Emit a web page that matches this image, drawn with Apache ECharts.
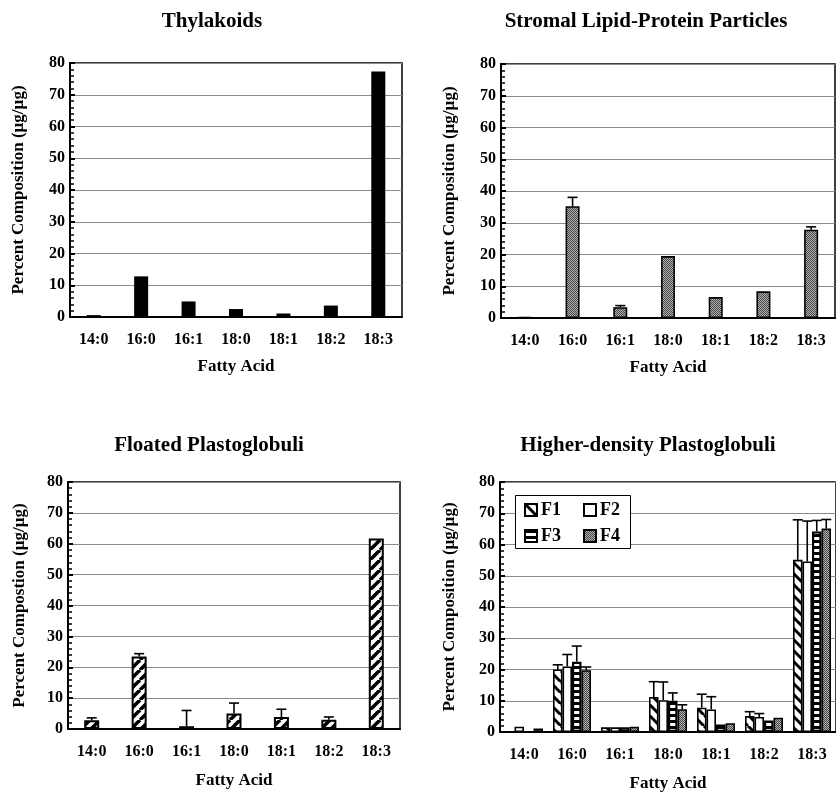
<!DOCTYPE html>
<html><head><meta charset="utf-8">
<script src="https://cdn.jsdelivr.net/npm/echarts@6/dist/echarts.min.js"></script>
<style>html,body{margin:0;padding:0;background:#fff}#c{width:836px;height:793px}</style>
</head><body><div id="c"></div>
<script>
// ---- data ----
const categories = ['14:0','16:0','16:1','18:0','18:1','18:2','18:3'];
const yTicks = [0,10,20,30,40,50,60,70,80];
const thylakoids = [0.6, 12.8, 4.9, 2.5, 1.1, 3.6, 77.3];
const stromal    = [0.3, 35.2, 3.4, 19.5, 6.6, 8.4, 27.8];
const stromalErr = [0.3, 38.0, 3.9, 19.5, 6.6, 8.4, 28.7];
const floated    = [2.8, 23.5, 0.9, 5.0, 3.9, 3.0, 61.7];
const floatedErr = [3.6, 24.4, 6.0, 8.4, 6.4, 3.9, 61.7];
const f1    = [0.0, 20.0, 1.5, 11.2, 7.8, 5.1, 55.1];
const f1Err = [0.0, 21.5, 1.5, 16.1, 12.1, 6.5, 67.9];
const f2    = [1.7, 21.0, 1.5, 10.2, 7.2, 4.8, 54.6];
const f2Err = [1.7, 24.8, 1.5, 16.0, 11.3, 5.9, 67.5];
const f3    = [0.0, 22.5, 1.5, 10.0, 2.4, 3.7, 64.2];
const f3Err = [0.0, 27.5, 1.5, 12.5, 2.4, 3.7, 67.7];
const f4    = [1.1, 19.8, 1.7, 7.3, 2.8, 4.6, 65.1];
const f4Err = [1.1, 20.8, 1.7, 8.7, 2.8, 4.6, 68.0];
const fractionNames = ['F1','F2','F3','F4'];

const FONT = "'Liberation Serif','Times New Roman',serif";

function makePattern(w, h, draw) {
  const c = document.createElement('canvas');
  c.width = w; c.height = h;
  const ctx = c.getContext('2d');
  draw(ctx, w, h);
  return { image: c, repeat: 'repeat' };
}
const stipple = makePattern(2, 2, (ctx) => {
  ctx.fillStyle = '#b4b4b4'; ctx.fillRect(0, 0, 2, 2);
  ctx.fillStyle = '#444'; ctx.fillRect(0, 0, 1, 1); ctx.fillRect(1, 1, 1, 1);
});
const slash = makePattern(10, 10, (ctx, w, h) => {
  ctx.fillStyle = '#fff'; ctx.fillRect(0, 0, w, h);
  ctx.strokeStyle = '#000'; ctx.lineWidth = 3.5;
  [-w, 0, w].forEach((dx) => {
    ctx.beginPath(); ctx.moveTo(dx, h); ctx.lineTo(dx + w, 0); ctx.stroke();
  });
});
const backslash = makePattern(11, 11, (ctx, w, h) => {
  ctx.fillStyle = '#fff'; ctx.fillRect(0, 0, w, h);
  ctx.strokeStyle = '#000'; ctx.lineWidth = 3;
  [-w, 0, w].forEach((dx) => {
    ctx.beginPath(); ctx.moveTo(dx, 0); ctx.lineTo(dx + w, h); ctx.stroke();
  });
});
const hstripe = makePattern(4, 6, (ctx) => {
  ctx.fillStyle = '#000'; ctx.fillRect(0, 0, 4, 3);
  ctx.fillStyle = '#fff'; ctx.fillRect(0, 3, 4, 3);
});

function errData(vals, errs) {
  const out = [];
  vals.forEach((v, i) => { if (errs[i] > v + 0.05) out.push([i, v, errs[i]]); });
  return out;
}
function errSeries(axis, vals, errs, offset, capHalf) {
  return {
    type: 'custom', xAxisIndex: axis, yAxisIndex: axis, z: 5,
    data: errData(vals, errs), encode: { x: 0, y: [1, 2] },
    renderItem: function (params, api) {
      const i = api.value(0);
      const b = api.coord([i, api.value(1)]);
      const t = api.coord([i, api.value(2)]);
      const cx = b[0] + offset;
      const st = { stroke: '#000', lineWidth: 1.6 };
      return { type: 'group', children: [
        { type: 'line', shape: { x1: cx, y1: b[1], x2: cx, y2: t[1] }, style: st },
        { type: 'line', shape: { x1: cx - capHalf, y1: t[1], x2: cx + capHalf, y2: t[1] }, style: st }
      ] };
    }
  };
}

const grids = [
  { left: 70, top: 63, width: 332, height: 254 },
  { left: 501, top: 64, width: 334, height: 254 },
  { left: 68, top: 482, width: 332, height: 247 },
  { left: 500, top: 482, width: 337, height: 250 }
];
const yNames = ['Percent Composition (µg/µg)', 'Percent Composition (µg/µg)', 'Percent Compostion (µg/µg)', 'Percent Composition (µg/µg)'];
const yNameGaps = [43, 43, 40, 42];

const option = {
  animation: false,
  backgroundColor: '#fff',
  title: [
    { text: 'Thylakoids', left: 207, top: 6, textAlign: 'center' },
    { text: 'Stromal Lipid-Protein Particles', left: 641, top: 6, textAlign: 'center' },
    { text: 'Floated Plastoglobuli', left: 204, top: 430, textAlign: 'center' },
    { text: 'Higher-density Plastoglobuli', left: 643, top: 430, textAlign: 'center' }
  ].map(t => Object.assign(t, { textStyle: { fontFamily: FONT, fontWeight: 'bold', fontSize: 21, color: '#000' } })),
  grid: grids.map(g => Object.assign({ show: true, borderColor: '#000', borderWidth: 1.5, backgroundColor: 'transparent' }, g)),
  xAxis: grids.map((g, k) => ({
    type: 'category', gridIndex: k, data: categories,
    name: 'Fatty Acid', nameLocation: 'middle', nameGap: k < 2 ? 41 : 43,
    nameTextStyle: { fontFamily: FONT, fontWeight: 'bold', fontSize: 17, color: '#000' },
    axisLine: { lineStyle: { color: '#000', width: 2 } },
    axisTick: { show: false },
    axisLabel: { fontFamily: FONT, fontWeight: 'bold', fontSize: 16, color: '#000', margin: 15 }
  })),
  yAxis: grids.map((g, k) => ({
    type: 'value', gridIndex: k, min: yTicks[0], max: yTicks[yTicks.length - 1], interval: 10,
    name: yNames[k], nameLocation: 'middle', nameRotate: 90, nameGap: yNameGaps[k],
    nameTextStyle: { fontFamily: FONT, fontWeight: 'bold', fontSize: 17, color: '#000' },
    axisLine: { show: true, lineStyle: { color: '#000', width: 2 } },
    axisTick: { show: true, inside: true, length: 5, lineStyle: { color: '#000', width: 2 } },
    minorTick: { show: true, splitNumber: 5, length: 4, lineStyle: { color: '#000', width: 1.5 } },
    splitLine: { show: true, lineStyle: { color: '#8a8a8a', width: 1 } },
    axisLabel: { fontFamily: FONT, fontWeight: 'bold', fontSize: 16, color: '#000', margin: 5 }
  })),
  legend: [
    { data: ['F1', 'F2'], left: 524, top: 501 },
    { data: ['F3', 'F4'], left: 524, top: 527 }
  ].map(l => Object.assign(l, {
    orient: 'horizontal', itemWidth: 12, itemHeight: 12, itemGap: 22, icon: 'rect', z: 10,
    padding: 0, selectedMode: false,
    textStyle: { fontFamily: FONT, fontWeight: 'bold', fontSize: 18, color: '#000', padding: [0, 0, 0, -1] }
  })),
  graphic: [{
    type: 'rect', z: 8, left: 515, top: 495,
    shape: { width: 115, height: 53 },
    style: { fill: '#fff', stroke: '#000', lineWidth: 1 }
  }],
  series: [
    { type: 'bar', xAxisIndex: 0, yAxisIndex: 0, data: thylakoids, barWidth: 14,
      itemStyle: { color: '#000' } },
    { type: 'bar', xAxisIndex: 1, yAxisIndex: 1, data: stromal, barWidth: 14,
      itemStyle: { color: stipple, borderColor: '#000', borderWidth: 1.6 } },
    errSeries(1, stromal, stromalErr, 0, 5),
    { type: 'bar', xAxisIndex: 2, yAxisIndex: 2, data: floated, barWidth: 15,
      itemStyle: { color: slash, borderColor: '#000', borderWidth: 2 } },
    errSeries(2, floated, floatedErr, 0, 5),
    { name: 'F1', type: 'bar', xAxisIndex: 3, yAxisIndex: 3, data: f1, barWidth: 9.5, barGap: '0%',
      itemStyle: { color: backslash, borderColor: '#000', borderWidth: 1.6 } },
    { name: 'F2', type: 'bar', xAxisIndex: 3, yAxisIndex: 3, data: f2, barWidth: 9.5, barGap: '0%',
      itemStyle: { color: '#fff', borderColor: '#000', borderWidth: 1.6 } },
    { name: 'F3', type: 'bar', xAxisIndex: 3, yAxisIndex: 3, data: f3, barWidth: 9.5, barGap: '0%',
      itemStyle: { color: hstripe, borderColor: '#000', borderWidth: 2.2 } },
    { name: 'F4', type: 'bar', xAxisIndex: 3, yAxisIndex: 3, data: f4, barWidth: 9.5, barGap: '0%',
      itemStyle: { color: stipple, borderColor: '#000', borderWidth: 1.6 } },
    errSeries(3, f1, f1Err, -1.5 * 9.5, 5),
    errSeries(3, f2, f2Err, -0.5 * 9.5, 5),
    errSeries(3, f3, f3Err, 0.5 * 9.5, 5),
    errSeries(3, f4, f4Err, 1.5 * 9.5, 5)
  ]
};
const chart = echarts.init(document.getElementById('c'), null, { renderer: 'canvas' });
chart.setOption(option);
</script></body></html>
